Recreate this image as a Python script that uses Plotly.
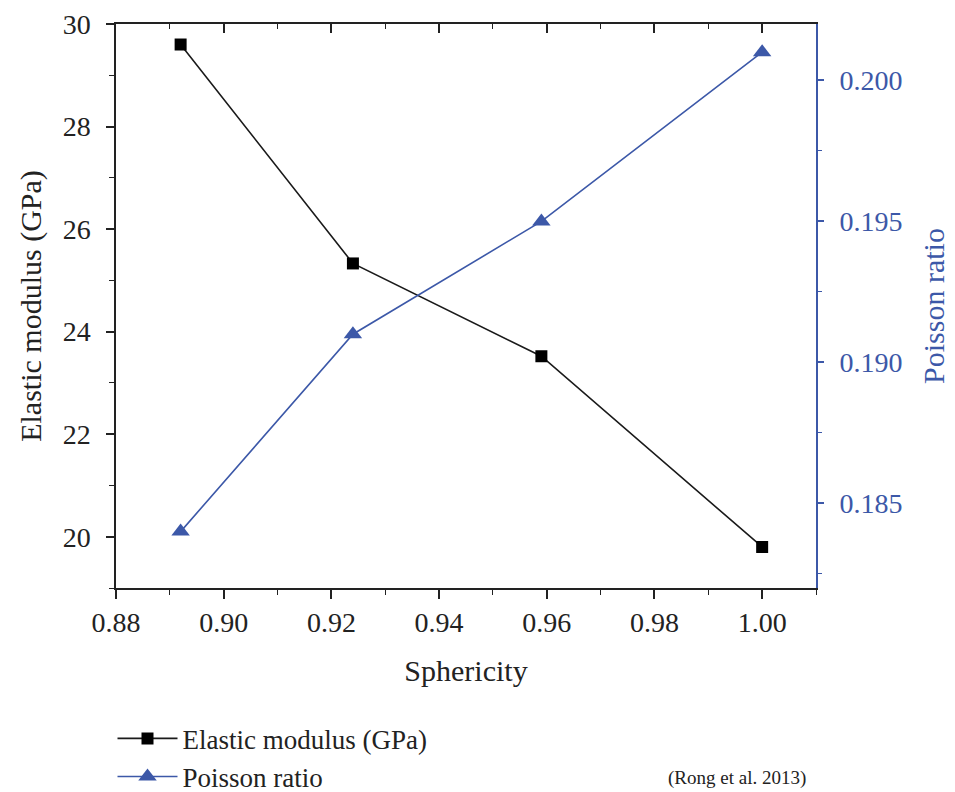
import plotly.graph_objects as go

sphericity = [0.892, 0.924, 0.959, 1.000]
elastic_modulus = [29.6, 25.33, 23.52, 19.8]
poisson_ratio = [0.184, 0.191, 0.195, 0.201]

x_ticks = [0.88, 0.90, 0.92, 0.94, 0.96, 0.98, 1.00]
x_ticklabels = ["0.88", "0.90", "0.92", "0.94", "0.96", "0.98", "1.00"]
y1_ticks = [20, 22, 24, 26, 28, 30]
y2_ticks = [0.185, 0.190, 0.195, 0.200]
y2_ticklabels = ["0.185", "0.190", "0.195", "0.200"]

BLUE = "#3C58A8"
INK = "#222222"
FONT = "Liberation Serif"
TICK_SIZE = 28
TITLE_SIZE = 30

fig = go.Figure()
fig.add_trace(go.Scatter(
    x=sphericity, y=elastic_modulus, name="Elastic modulus (GPa)",
    mode="lines+markers",
    line=dict(color="#1a1a1a", width=1.6),
    marker=dict(symbol="square", size=12, color="black"),
))
fig.add_trace(go.Scatter(
    x=sphericity, y=poisson_ratio, name="Poisson ratio", yaxis="y2",
    mode="lines+markers",
    line=dict(color=BLUE, width=1.6),
    marker=dict(symbol="triangle-up", size=16, color=BLUE),
))
# helper invisible trace so the top (inward-tick) axis is drawn
fig.add_trace(go.Scatter(x=[sphericity[0]], y=[elastic_modulus[0]], xaxis="x2",
                         mode="markers", marker=dict(opacity=0), showlegend=False,
                         hoverinfo="skip"))

fig.update_layout(
    width=955, height=792,
    margin=dict(l=108, r=147, t=16, b=212, autoexpand=False),
    paper_bgcolor="white", plot_bgcolor="white",
    font=dict(family=FONT, size=TICK_SIZE, color=INK),
    showlegend=True,
    legend=dict(x=-0.005, y=-0.224, xanchor="left", yanchor="top",
                font=dict(family=FONT, size=27, color=INK),
                bgcolor="rgba(0,0,0,0)", tracegroupgap=0, itemwidth=60),
    xaxis=dict(
        range=[0.88, 1.01], tickvals=x_ticks, ticktext=x_ticklabels,
        ticks="outside", ticklen=9, tickwidth=1.5, tickcolor=INK,
        showline=True, linecolor=INK, linewidth=1.5, mirror=True,
        showgrid=False, zeroline=False, automargin=False,
        ticklabelstandoff=0,
        minor=dict(dtick=0.01, tick0=0.88, ticks="outside", ticklen=5, tickwidth=1.3, tickcolor=INK),
        title=dict(text="Sphericity", font=dict(family=FONT, size=TITLE_SIZE, color=INK), standoff=23),
        tickfont=dict(family=FONT, size=TICK_SIZE, color=INK),
    ),
    xaxis2=dict(
        overlaying="x", side="top", range=[0.88, 1.01], tickvals=x_ticks,
        showticklabels=False, ticks="inside", ticklen=9, tickwidth=1.5, tickcolor=INK,
        minor=dict(dtick=0.01, tick0=0.88, ticks="inside", ticklen=5, tickwidth=1.3, tickcolor=INK),
        showgrid=False, zeroline=False, showline=False, automargin=False,
    ),
    yaxis=dict(
        range=[19, 30], tickvals=y1_ticks,
        ticks="outside", ticklen=8, tickwidth=1.5, tickcolor=INK,
        showline=True, linecolor=INK, linewidth=1.5,
        showgrid=False, zeroline=False, automargin=False,
        ticklabelstandoff=10,
        minor=dict(dtick=1, tick0=19, ticks="outside", ticklen=5, tickwidth=1.3, tickcolor=INK),
        title=dict(text="Elastic modulus (GPa)", font=dict(family=FONT, size=TITLE_SIZE, color=INK), standoff=12),
        tickfont=dict(family=FONT, size=TICK_SIZE, color=INK),
    ),
    yaxis2=dict(
        overlaying="y", side="right", anchor="x",
        range=[0.182, 0.202], tickvals=y2_ticks, ticktext=y2_ticklabels,
        ticks="outside", ticklen=6, tickwidth=1.5, tickcolor=BLUE,
        showline=True, linecolor=BLUE, linewidth=1.8,
        showgrid=False, zeroline=False, automargin=False,
        ticklabelstandoff=10,
        minor=dict(dtick=0.0025, tick0=0.1825, ticks="outside", ticklen=4, tickwidth=1.3, tickcolor=BLUE),
        title=dict(text="Poisson ratio", font=dict(family=FONT, size=TITLE_SIZE, color=BLUE), standoff=21),
        tickfont=dict(family=FONT, size=TICK_SIZE, color=BLUE),
    ),
    annotations=[dict(text="(Rong et al. 2013)", xref="paper", yref="paper",
                      x=0.887, y=-0.337, xanchor="center", yanchor="middle",
                      showarrow=False, font=dict(family=FONT, size=19, color=INK))],
)

fig.write_html("out.html")
